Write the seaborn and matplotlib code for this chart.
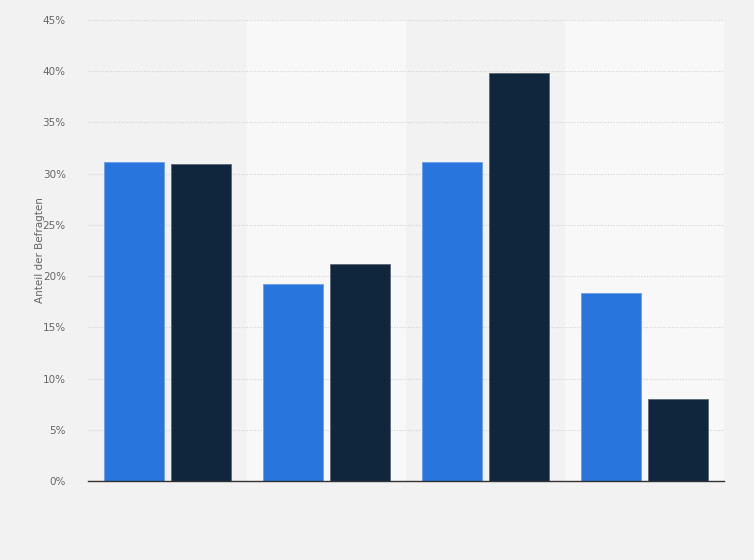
import matplotlib
matplotlib.use("Agg")
import matplotlib.pyplot as plt
import seaborn as sns
import pandas as pd
from matplotlib.ticker import FuncFormatter, MultipleLocator

categories = ["A", "B", "C", "D"]
series_names = ["Serie 1", "Serie 2"]
series1 = [31.1, 19.2, 31.1, 18.4]
series2 = [30.9, 21.2, 39.8, 8.0]
y_label = "Anteil der Befragten"

df = pd.DataFrame({
    "Kategorie": categories * 2,
    "Serie": [series_names[0]] * len(categories) + [series_names[1]] * len(categories),
    "Wert": series1 + series2,
})

sns.set_theme(style="white")
plt.rcParams["font.family"] = ["DejaVu Sans"]

BG = "#f2f2f2"
fig = plt.figure(figsize=(7.54, 5.60), dpi=100, facecolor=BG)
ax = fig.add_axes([88 / 754, 1 - 481 / 560, 636 / 754, 461 / 560])
ax.set_facecolor(BG)

# alternating background bands
for i in range(len(categories)):
    if i % 2 == 1:
        ax.axvspan(i - 0.5, i + 0.5, facecolor="#f8f8f8", edgecolor="none", zorder=0, lw=0)

sns.barplot(data=df, x="Kategorie", y="Wert", hue="Serie",
            palette=["#2876dd", "#10263d"], saturation=1, width=0.84, gap=0.1,
            ax=ax, legend=False, zorder=3)
for cont, ec in zip(ax.containers, ["#6a9fe6", "#5a6775"]):
    for p in cont:
        p.set_edgecolor(ec)
        p.set_linewidth(0.6)

ax.set_xlim(-0.5, len(categories) - 0.5)
ax.set_ylim(0, 45)
ax.yaxis.set_major_locator(MultipleLocator(5))
ax.yaxis.set_major_formatter(FuncFormatter(lambda v, _: f"{int(v)}%"))
ax.grid(axis="y", color="#d4d4d4", linestyle=(0, (1, 1.5)), linewidth=0.8, zorder=1)
ax.grid(axis="x", visible=False)
ax.set_axisbelow(True)

ax.set_xticks(range(len(categories)))
ax.set_xticklabels([""] * len(categories))
ax.tick_params(axis="x", length=0)
ax.tick_params(axis="y", length=0, pad=16, labelsize=7.5, labelcolor="#666666")

for s in ["top", "right", "left"]:
    ax.spines[s].set_visible(False)
ax.spines["bottom"].set_color("#333333")
ax.spines["bottom"].set_linewidth(1.0)
ax.spines["bottom"].set_zorder(5)

ax.set_xlabel("")
ax.set_ylabel(y_label, fontsize=7.5, color="#666666")
ax.yaxis.set_label_coords(-0.068, 0.5)

fig.savefig("out.png", dpi=100, facecolor=BG)
